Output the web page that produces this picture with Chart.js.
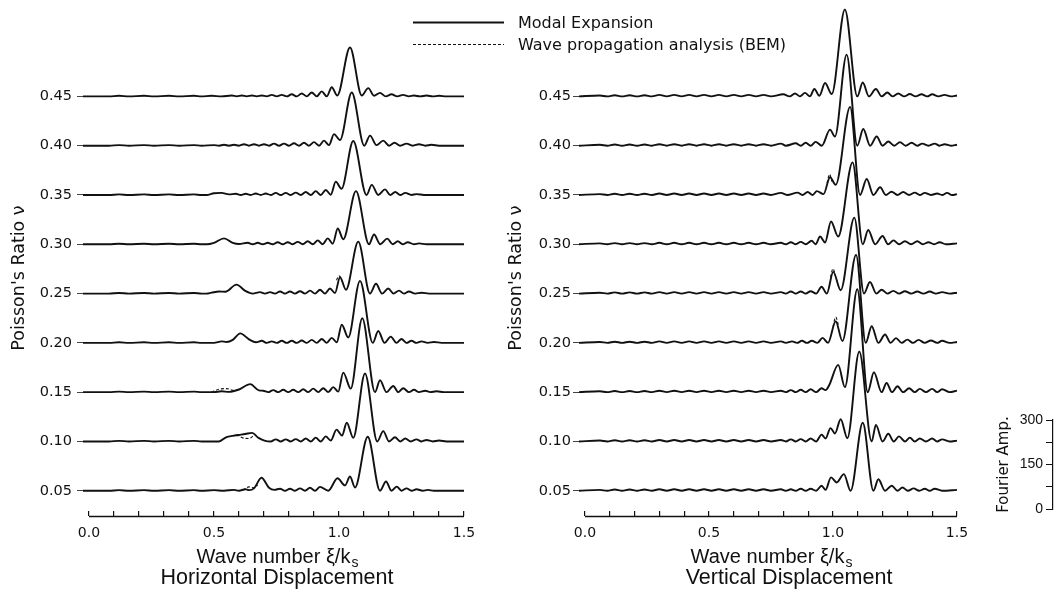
<!DOCTYPE html>
<html>
<head>
<meta charset="utf-8">
<script src="https://cdn.jsdelivr.net/npm/chart.js@4.4.1/dist/chart.umd.min.js"></script>
<style>
  body { margin: 0; background: #fff; }
  #wrap { position: relative; width: 1056px; height: 594px; }
  #wrap canvas { position: absolute; left: 0; top: 0; }
</style>
</head>
<body>
<div id="wrap">
  <canvas id="horizChart" width="1056" height="594"></canvas>
  <canvas id="vertChart" width="1056" height="594"></canvas>
  <canvas id="ampChart" width="1056" height="594"></canvas>
</div>
<script>
// Poisson's ratio of every trace = baseline of the waterfall
const ratios = [0.05, 0.10, 0.15, 0.20, 0.25, 0.30, 0.35, 0.40, 0.45];
// wave number ticks (labelled every 0.5)
const waveTicks = [0, 0.1, 0.2, 0.3, 0.4, 0.5, 0.6, 0.7, 0.8, 0.9, 1.0, 1.1, 1.2, 1.3, 1.4, 1.5];
const waveLabels = [0, 0.5, 1.0, 1.5];
// Fourier amplitude scale bar
const ampTicks = [0, 75, 150, 225, 300];
const ampLabels = [0, 150, 300];
// 300 units of Fourier amplitude span 0.0903 on the Poisson's ratio axis
const ampPerRatio = 300 / 0.0903;
const seriesNames = ['Modal Expansion', 'Wave propagation analysis (BEM)'];

// Fourier amplitude spectra, [xi/ks, amplitude]
// low wave number part shared by all traces
const horizLow = [[-0.024,0],[0.08,0],[0.12,2],[0.16,0],[0.22,2],[0.26,0],[0.32,2],[0.36,0],[0.42,2],[0.45,0]];
const vertLow = [[-0.024,0],[0.06,3],[0.09,0],[0.12,4],[0.15,0],[0.18,4],[0.21,0],[0.24,4],[0.27,0],[0.30,5],[0.33,0],[0.36,5],[0.39,0],[0.42,5],[0.45,0],[0.48,5],[0.51,0],[0.54,5],[0.57,0],[0.60,5],[0.63,0],[0.66,5],[0.69,0],[0.72,5],[0.75,0]];

// horizontal displacement, modal expansion
const horiz05 = [[0.5,2],[0.54,0],[0.58,3],[0.6,0],[0.625,5],[0.64,2],[0.66,8],[0.69,44],[0.72,10],[0.742,3],[0.764,7],[0.784,0],[0.804,7],[0.824,0],[0.844,8],[0.864,0],[0.884,10],[0.904,0],[0.924,13],[0.957,0],[0.994,42],[1.024,18],[1.044,48],[1.064,11],[1.115,182],[1.164,0],[1.188,31],[1.21,0],[1.231,14],[1.25,0],[1.27,8],[1.29,0],[1.31,5],[1.335,0],[1.355,3],[1.38,0],[1.5,0]];
const horiz10 = [[0.52,0],[0.55,15],[0.575,19],[0.6,22],[0.625,25],[0.652,29],[0.678,12],[0.705,2],[0.727,0],[0.747,7],[0.767,0],[0.787,7],[0.807,0],[0.827,8],[0.847,0],[0.867,10],[0.887,0],[0.907,13],[0.927,0],[0.947,17],[0.967,3],[0.99,40],[1.012,20],[1.031,63],[1.057,12],[1.104,229],[1.153,0],[1.177,35],[1.2,0],[1.224,14],[1.245,0],[1.265,10],[1.287,0],[1.31,7],[1.33,0],[1.35,5],[1.375,0],[1.4,3],[1.43,0],[1.5,0]];
const horiz15 = [[0.5,0],[0.53,3],[0.56,1],[0.6,9],[0.645,27],[0.68,6],[0.697,5],[0.717,0],[0.737,7],[0.757,0],[0.777,8],[0.797,0],[0.817,8],[0.837,0],[0.857,10],[0.877,0],[0.897,12],[0.917,0],[0.937,13],[0.957,0],[0.977,17],[0.997,2],[1.017,66],[1.047,12],[1.093,249],[1.144,0],[1.164,40],[1.19,0],[1.217,21],[1.237,0],[1.257,13],[1.28,0],[1.3,8],[1.32,0],[1.345,5],[1.365,0],[1.39,3],[1.42,0],[1.5,0]];
const horiz20 = [[0.5,0],[0.53,5],[0.55,3],[0.575,10],[0.605,32],[0.64,12],[0.668,2],[0.691,7],[0.711,0],[0.731,5],[0.751,0],[0.771,7],[0.791,0],[0.811,7],[0.831,0],[0.851,8],[0.871,0],[0.891,10],[0.911,0],[0.931,13],[0.951,0],[0.971,17],[0.991,2],[1.011,61],[1.037,18],[1.084,209],[1.135,0],[1.157,40],[1.182,0],[1.207,21],[1.23,0],[1.25,13],[1.27,0],[1.29,7],[1.31,0],[1.33,5],[1.355,0],[1.38,3],[1.41,0],[1.5,0]];
const horiz25 = [[0.47,0],[0.49,3],[0.52,7],[0.545,6],[0.59,30],[0.625,9],[0.655,0],[0.684,5],[0.704,0],[0.724,5],[0.744,0],[0.764,7],[0.784,0],[0.804,7],[0.824,0],[0.844,8],[0.864,0],[0.884,10],[0.904,0],[0.924,13],[0.944,0],[0.964,17],[0.984,2],[1.004,55],[1.028,13],[1.077,175],[1.124,0],[1.148,33],[1.172,0],[1.197,17],[1.218,0],[1.24,10],[1.26,0],[1.28,7],[1.305,0],[1.33,3],[1.36,0],[1.5,0]];
const horiz30 = [[0.47,0],[0.5,5],[0.54,20],[0.575,5],[0.6,1],[0.635,5],[0.655,0],[0.675,5],[0.695,0],[0.715,5],[0.735,0],[0.755,7],[0.775,0],[0.795,7],[0.815,0],[0.835,8],[0.855,0],[0.875,10],[0.895,0],[0.915,13],[0.935,0],[0.955,20],[0.975,2],[0.995,53],[1.017,17],[1.068,179],[1.12,0],[1.14,33],[1.165,0],[1.193,19],[1.215,0],[1.235,10],[1.255,0],[1.275,7],[1.3,0],[1.32,3],[1.35,0],[1.5,0]];
const horiz35 = [[0.47,0],[0.5,6],[0.53,7],[0.56,2],[0.587,4],[0.607,0],[0.627,4],[0.647,0],[0.667,5],[0.687,0],[0.707,5],[0.727,0],[0.747,7],[0.767,0],[0.787,7],[0.807,0],[0.827,8],[0.847,0],[0.867,10],[0.887,0],[0.907,13],[0.927,0],[0.947,17],[0.967,1],[0.987,45],[1.01,21],[1.057,182],[1.11,0],[1.131,34],[1.157,0],[1.184,19],[1.205,0],[1.225,10],[1.245,0],[1.265,7],[1.29,0],[1.31,3],[1.34,0],[1.5,0]];
const horiz40 = [[0.5,2],[0.52,0],[0.54,3],[0.56,0],[0.58,3],[0.6,0],[0.62,5],[0.64,0],[0.66,5],[0.68,0],[0.7,5],[0.72,0],[0.74,7],[0.76,0],[0.78,7],[0.8,0],[0.82,8],[0.84,0],[0.86,10],[0.88,0],[0.9,12],[0.92,0],[0.94,17],[0.96,2],[0.98,39],[1.004,19],[1.051,179],[1.101,0],[1.124,34],[1.15,2],[1.177,17],[1.2,0],[1.222,10],[1.245,0],[1.27,7],[1.295,0],[1.32,5],[1.345,0],[1.37,3],[1.4,0],[1.5,0]];
const horiz45 = [[0.49,2],[0.53,0],[0.571,3],[0.591,0],[0.611,3],[0.631,0],[0.651,3],[0.671,0],[0.691,3],[0.711,0],[0.731,5],[0.751,0],[0.771,5],[0.791,0],[0.811,7],[0.831,0],[0.851,10],[0.871,0],[0.891,13],[0.911,0],[0.931,17],[0.951,0],[0.971,31],[0.993,3],[1.044,165],[1.091,3],[1.117,28],[1.14,2],[1.164,12],[1.187,0],[1.21,7],[1.233,0],[1.256,5],[1.28,0],[1.3,3],[1.325,0],[1.35,3],[1.375,0],[1.4,2],[1.43,0],[1.5,0]];

// vertical displacement, modal expansion
const vert05 = [[0.79,5],[0.81,0],[0.83,5],[0.85,0],[0.87,7],[0.89,0],[0.91,7],[0.932,0],[0.954,17],[0.97,3],[0.992,45],[1.015,28],[1.044,56],[1.071,0],[1.12,229],[1.163,0],[1.183,39],[1.21,0],[1.237,17],[1.26,0],[1.28,11],[1.302,0],[1.325,8],[1.348,0],[1.37,7],[1.39,0],[1.41,7],[1.44,0],[1.5,3]];
const vert10 = [[0.79,5],[0.81,0],[0.83,7],[0.85,0],[0.87,8],[0.89,0],[0.91,10],[0.932,0],[0.954,23],[0.97,10],[0.99,45],[1.008,27],[1.031,75],[1.058,11],[1.106,303],[1.156,0],[1.173,56],[1.2,0],[1.223,26],[1.245,0],[1.266,17],[1.29,0],[1.31,13],[1.33,0],[1.35,10],[1.375,0],[1.4,10],[1.42,0],[1.44,7],[1.47,0],[1.5,3]];
const vert15 = [[0.79,5],[0.81,0],[0.83,7],[0.85,0],[0.87,8],[0.89,0],[0.91,10],[0.932,0],[0.954,13],[0.97,7],[0.985,24],[1.021,92],[1.048,17],[1.098,347],[1.14,0],[1.165,67],[1.196,0],[1.216,31],[1.238,0],[1.26,20],[1.283,0],[1.307,13],[1.33,0],[1.35,11],[1.375,0],[1.4,11],[1.42,0],[1.44,10],[1.47,0],[1.5,5]];
const vert20 = [[0.79,5],[0.81,0],[0.835,5],[0.855,0],[0.875,7],[0.895,0],[0.915,7],[0.937,0],[0.958,17],[0.98,0],[1.011,73],[1.038,6],[1.093,297],[1.132,0],[1.156,56],[1.183,0],[1.21,28],[1.232,0],[1.254,16],[1.277,0],[1.3,11],[1.322,0],[1.345,10],[1.37,0],[1.395,8],[1.42,0],[1.44,7],[1.47,0],[1.5,3]];
const vert25 = [[0.79,5],[0.81,0],[0.83,7],[0.85,0],[0.87,7],[0.89,0],[0.91,8],[0.932,0],[0.954,23],[0.975,0],[1.001,73],[1.031,11],[1.086,256],[1.125,0],[1.149,39],[1.175,0],[1.196,13],[1.22,0],[1.243,9],[1.267,0],[1.29,8],[1.315,0],[1.34,7],[1.365,0],[1.39,7],[1.415,0],[1.44,5],[1.47,0],[1.5,3]];
const vert30 = [[0.79,5],[0.81,0],[0.83,7],[0.85,0],[0.87,8],[0.89,0],[0.914,12],[0.93,0],[0.948,26],[0.968,6],[0.992,77],[1.021,26],[1.079,276],[1.12,0],[1.142,48],[1.17,0],[1.2,28],[1.222,0],[1.244,13],[1.267,0],[1.29,10],[1.315,0],[1.34,10],[1.362,0],[1.385,7],[1.408,0],[1.43,7],[1.455,0],[1.5,3]];
const vert35 = [[0.79,7],[0.815,0],[0.857,8],[0.877,0],[0.898,10],[0.918,0],[0.935,13],[0.962,3],[0.988,60],[1.011,34],[1.069,297],[1.109,0],[1.136,54],[1.163,0],[1.19,26],[1.213,0],[1.236,11],[1.26,0],[1.283,10],[1.307,0],[1.33,8],[1.35,0],[1.37,7],[1.395,0],[1.42,5],[1.44,0],[1.46,7],[1.48,0],[1.5,3]];
const vert40 = [[0.79,7],[0.81,0],[0.85,8],[0.87,0],[0.89,10],[0.91,0],[0.93,13],[0.955,0],[0.988,54],[1.008,31],[1.055,307],[1.098,0],[1.122,56],[1.15,0],[1.176,31],[1.2,0],[1.223,14],[1.247,0],[1.27,12],[1.293,0],[1.317,10],[1.34,0],[1.36,7],[1.385,0],[1.41,7],[1.43,0],[1.45,5],[1.475,0],[1.5,3]];
const vert45 = [[0.8,7],[0.825,0],[0.847,10],[0.867,0],[0.887,12],[0.907,0],[0.925,25],[0.945,2],[0.968,45],[0.995,8],[1.048,293],[1.098,0],[1.12,47],[1.145,0],[1.173,25],[1.196,0],[1.219,13],[1.24,0],[1.263,10],[1.287,0],[1.31,8],[1.333,0],[1.357,7],[1.38,0],[1.4,7],[1.425,0],[1.45,5],[1.475,0],[1.5,3]];

// BEM results where they part from the modal expansion
const horizBem05 = [[0.615,2],[0.64,13],[0.66,10],[0.675,20]];
const horizBem10 = [[0.59,24],[0.615,12],[0.64,10],[0.665,25]];
const horizBem15 = [[0.49,0],[0.52,10],[0.55,12],[0.58,6],[0.6,9]];
const horizBem25 = [[0.99,45],[1.0,60],[1.01,50]];
const vertBem20 = [[1.0,55],[1.011,87],[1.022,60]];
const vertBem25 = [[0.99,55],[1.0,84],[1.01,60]];
const vertBem35 = [[0.976,40],[0.986,70],[0.996,45]];

const inkColor = '#111';
Chart.defaults.font.family = '"DejaVu Sans", sans-serif';
Chart.defaults.color = inkColor;

function traceData(pairs, ratio) {
  return pairs.map(p => ({ x: p[0], y: ratio + p[1] / ampPerRatio }));
}

function buildDatasets(low, rows, bem) {
  const sets = rows.map((row, i) => ({
    label: seriesNames[0],
    data: traceData(low.concat(row), ratios[i]),
    borderColor: inkColor,
    borderWidth: 1.9,
    pointRadius: 0,
    cubicInterpolationMode: 'monotone',
    clip: false
  }));
  bem.forEach(b => sets.push({
    label: seriesNames[1],
    data: traceData(b.pts, b.ratio),
    borderColor: inkColor,
    borderWidth: 1.1,
    borderDash: [3, 2],
    pointRadius: 0,
    cubicInterpolationMode: 'monotone',
    clip: false
  }));
  return sets;
}

// x axis line only from 0 to 1.5
const axisLinePlugin = {
  id: 'axisLine',
  afterDraw(chart) {
    const x = chart.scales.x, ctx = chart.ctx;
    const y = Math.round(chart.chartArea.bottom) + 0.5;
    ctx.save();
    ctx.strokeStyle = inkColor;
    ctx.lineWidth = 1.3;
    ctx.beginPath();
    ctx.moveTo(x.getPixelForValue(0), y);
    ctx.lineTo(x.getPixelForValue(1.5), y);
    ctx.stroke();
    ctx.restore();
  }
};

// "Wave number xi/ks" and the panel caption under each axis
const panelTextPlugin = {
  id: 'panelText',
  afterDraw(chart, args, opts) {
    const ctx = chart.ctx;
    ctx.save();
    ctx.fillStyle = inkColor;
    ctx.textBaseline = 'alphabetic';
    ctx.textAlign = 'left';
    const main = 'Wave number \u03BE/k';
    ctx.font = '20px "Liberation Sans"';
    const w1 = ctx.measureText(main).width;
    ctx.font = '14px "Liberation Sans"';
    const w2 = ctx.measureText('s').width;
    const x0 = opts.axisTitleX - (w1 + w2) / 2;
    ctx.font = '20px "Liberation Sans"';
    ctx.fillText(main, x0, 563);
    ctx.font = '14px "Liberation Sans"';
    ctx.fillText('s', x0 + w1 + 1, 567);
    ctx.font = '21.5px "Liberation Sans"';
    ctx.textAlign = 'center';
    ctx.fillText(opts.caption, opts.captionX, 584);
    ctx.restore();
  }
};

// legend with the two line styles, built from the datasets
const legendPlugin = {
  id: 'styleLegend',
  afterDraw(chart) {
    const ctx = chart.ctx;
    const rows = [22.5, 44.5];
    ctx.save();
    seriesNames.forEach((name, i) => {
      const ds = chart.data.datasets.find(d => d.label === name);
      ctx.strokeStyle = inkColor;
      ctx.lineWidth = ds.borderWidth;
      ctx.setLineDash(ds.borderDash || []);
      ctx.beginPath();
      ctx.moveTo(413, rows[i]);
      ctx.lineTo(504, rows[i]);
      ctx.stroke();
      ctx.setLineDash([]);
      ctx.fillStyle = inkColor;
      ctx.font = '16px "DejaVu Sans"';
      ctx.textBaseline = 'middle';
      ctx.fillText(name, 518, rows[i] + 1);
    });
    ctx.restore();
  }
};

function panelConfig(o) {
  return {
    type: 'line',
    data: { datasets: o.datasets },
    options: {
      responsive: false,
      animation: false,
      devicePixelRatio: 1,
      layout: { padding: { left: o.padLeft, right: o.padRight, top: 40, bottom: 0 } },
      plugins: {
        legend: { display: false },
        tooltip: { enabled: false },
        panelText: { axisTitleX: o.axisTitleX, caption: o.caption, captionX: o.captionX }
      },
      scales: {
        x: {
          type: 'linear',
          min: -0.024,
          max: 1.5,
          afterBuildTicks: s => { s.ticks = waveTicks.map(v => ({ value: v })); },
          afterFit: s => { s.height = 78; },
          border: { display: false },
          grid: { drawOnChartArea: false, tickLength: -5, color: inkColor, lineWidth: 1.2 },
          ticks: {
            padding: 14, autoSkip: false, maxRotation: 0,
            font: { size: 14 },
            callback: v => waveLabels.includes(v) ? v.toFixed(1) : ''
          }
        },
        y: {
          type: 'linear',
          min: 0.0244,
          max: 0.5072,
          afterBuildTicks: s => { s.ticks = ratios.map(v => ({ value: v })); },
          afterFit: s => { s.width = o.yWidth; },
          border: { display: false },
          grid: { drawOnChartArea: false, tickLength: 6, color: '#444', lineWidth: 1 },
          ticks: { padding: o.yPad, font: { size: 14.5 }, callback: v => v.toFixed(2) },
          title: {
            display: true,
            text: "Poisson's Ratio \u03BD",
            font: { size: 17.5 },
            padding: { top: o.titlePad, bottom: 0 }
          }
        }
      }
    },
    plugins: o.plugins
  };
}

new Chart(document.getElementById('horizChart'), panelConfig({
  datasets: buildDatasets(horizLow,
    [horiz05, horiz10, horiz15, horiz20, horiz25, horiz30, horiz35, horiz40, horiz45],
    [{ ratio: 0.05, pts: horizBem05 }, { ratio: 0.10, pts: horizBem10 },
     { ratio: 0.15, pts: horizBem15 }, { ratio: 0.25, pts: horizBem25 }]),
  padLeft: 0, padRight: 592, yWidth: 83, yPad: 5, titlePad: 8.5,
  axisTitleX: 277, caption: 'Horizontal Displacement', captionX: 277,
  plugins: [axisLinePlugin, panelTextPlugin, legendPlugin]
}));

new Chart(document.getElementById('vertChart'), panelConfig({
  datasets: buildDatasets(vertLow,
    [vert05, vert10, vert15, vert20, vert25, vert30, vert35, vert40, vert45],
    [{ ratio: 0.20, pts: vertBem20 }, { ratio: 0.25, pts: vertBem25 },
     { ratio: 0.35, pts: vertBem35 }]),
  padLeft: 500, padRight: 99, yWidth: 79, yPad: 2, titlePad: 5.5,
  axisTitleX: 771, caption: 'Vertical Displacement', captionX: 789,
  plugins: [axisLinePlugin, panelTextPlugin]
}));

// Fourier amplitude scale bar
new Chart(document.getElementById('ampChart'), {
  type: 'line',
  data: { datasets: [] },
  options: {
    responsive: false,
    animation: false,
    devicePixelRatio: 1,
    layout: { padding: { left: 985, right: 1, top: 420, bottom: 85 } },
    plugins: { legend: { display: false }, tooltip: { enabled: false } },
    scales: {
      x: { type: 'linear', display: false, min: 0, max: 1 },
      y: {
        type: 'linear',
        min: 0,
        max: 300,
        afterBuildTicks: s => { s.ticks = ampTicks.map(v => ({ value: v })); },
        afterFit: s => { s.width = 68; },
        border: { display: true, color: inkColor, width: 1.2 },
        grid: { drawOnChartArea: false, tickLength: 7, color: inkColor, lineWidth: 1 },
        ticks: {
          padding: 3, autoSkip: false,
          font: { family: '"Liberation Sans"', size: 14 },
          callback: v => ampLabels.includes(v) ? String(v) : ''
        },
        title: {
          display: true,
          text: 'Fourier Amp.',
          font: { size: 15 },
          padding: { top: 10, bottom: 0 }
        }
      }
    }
  }
});
</script>
</body>
</html>
